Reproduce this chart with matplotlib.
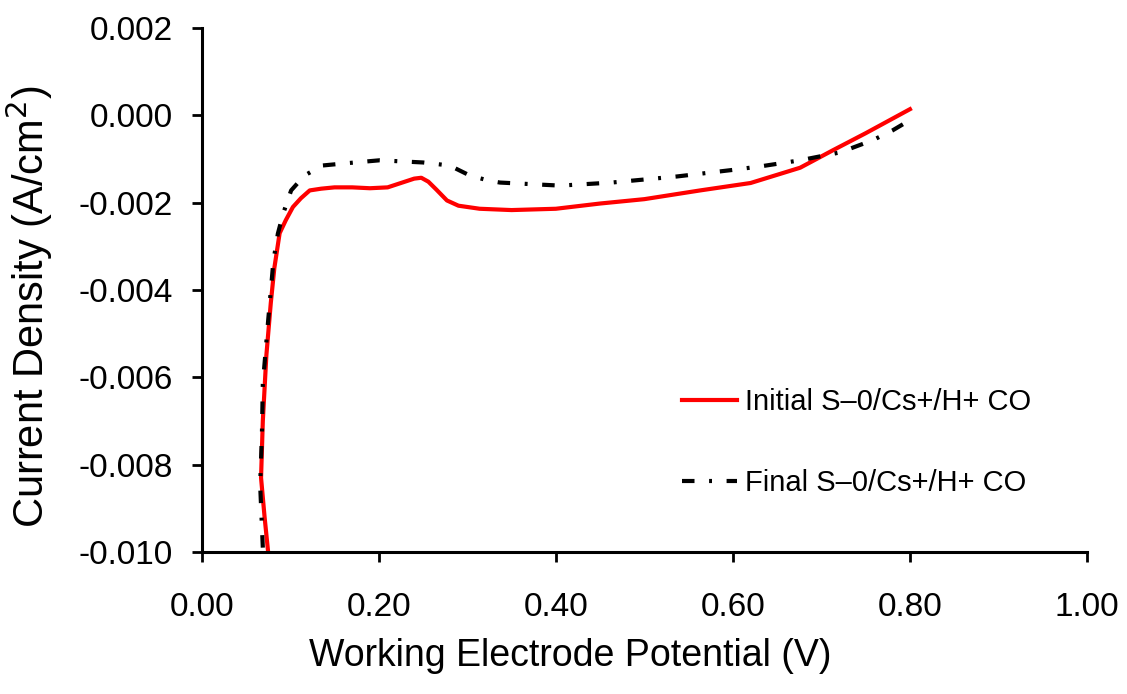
import matplotlib.pyplot as plt

# Initial S-0/Cs+/H+ CO
initial_v = [0.075, 0.071, 0.067, 0.069, 0.073, 0.078, 0.082, 0.088, 0.095, 0.103, 0.112,
             0.122, 0.135, 0.150, 0.170, 0.190, 0.210, 0.225, 0.240, 0.248, 0.256, 0.265,
             0.277, 0.290, 0.314, 0.350, 0.400, 0.450, 0.500, 0.563, 0.620, 0.676, 0.713,
             0.750, 0.800]
initial_j = [-0.0100, -0.0092, -0.0083, -0.0070, -0.0055, -0.0043, -0.0035, -0.0027, -0.0024,
             -0.0021, -0.0019, -0.00172, -0.00168, -0.00165, -0.00165, -0.00167, -0.00165,
             -0.00155, -0.00145, -0.00143, -0.00152, -0.00170, -0.00195, -0.00207, -0.00214,
             -0.00217, -0.00214, -0.00202, -0.00192, -0.00172, -0.00155, -0.00120, -0.00080,
             -0.00041, 0.00014]

# Final S-0/Cs+/H+ CO
final_v = [0.069, 0.066, 0.068, 0.069, 0.075, 0.081, 0.086, 0.092, 0.101, 0.116, 0.136,
           0.162, 0.201, 0.250, 0.280, 0.303, 0.325, 0.337, 0.405, 0.463, 0.537, 0.600,
           0.631, 0.676, 0.721, 0.758, 0.780, 0.800]
final_j = [-0.0099, -0.00846, -0.0073, -0.00616, -0.00471, -0.00333, -0.00271, -0.00225,
           -0.00172, -0.00138, -0.00115, -0.00110, -0.00103, -0.00108, -0.00115, -0.00138,
           -0.00150, -0.00154, -0.00161, -0.00154, -0.00140, -0.00125, -0.00117, -0.00103,
           -0.00085, -0.00057, -0.00035, -0.00011]

plt.rcParams['font.family'] = ['Liberation Sans', 'DejaVu Sans']
plt.rcParams['axes.unicode_minus'] = False

fig = plt.figure(figsize=(11.27, 6.94), dpi=100)
ax = fig.add_axes([0.179, 0.2046, 0.7855, 0.7551])

ax.plot(initial_v, initial_j, color='red', linewidth=3, label='Initial S\u20130/Cs+/H+ CO')
ax.plot(final_v, final_j, color='black', linewidth=3, dashes=(3, 3.5, 0.7, 3.5),
        label='Final S\u20130/Cs+/H+ CO')

ax.set_xlim(0, 1.0)
ax.set_ylim(-0.010, 0.002)
ax.set_xticks([0, 0.2, 0.4, 0.6, 0.8, 1.0])
ax.set_xticklabels(['0.00', '0.20', '0.40', '0.60', '0.80', '1.00'])
ax.set_yticks([-0.010, -0.008, -0.006, -0.004, -0.002, 0.000, 0.002])
ax.set_yticklabels(['-0.010', '-0.008', '-0.006', '-0.004', '-0.002', '0.000', '0.002'])

for s in ['top', 'right']:
    ax.spines[s].set_visible(False)
for s in ['left', 'bottom']:
    ax.spines[s].set_linewidth(2.2)
ax.tick_params(direction='out', length=7, width=2, labelsize=24)
ax.tick_params(axis='x', pad=22)
ax.tick_params(axis='y', pad=14)

ax.set_xlabel('Working Electrode Potential (V)', fontsize=27)
ax.xaxis.set_label_coords(0.416, -0.165)
ax.set_ylabel('Current Density (A/cm$^2$)', fontsize=30)
ax.yaxis.set_label_coords(-0.166, 0.468)

ax.legend(loc='lower right', bbox_to_anchor=(0.966, 0.055), frameon=False, fontsize=21,
          handlelength=1.9, handletextpad=0.25, labelspacing=1.8)

fig.savefig('out.png', dpi=100)
